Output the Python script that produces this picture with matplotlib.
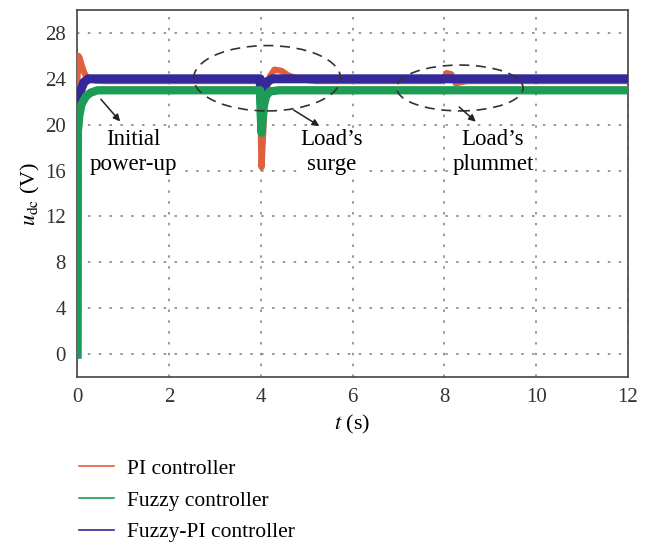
import matplotlib
matplotlib.use('Agg')
import matplotlib.pyplot as plt
from matplotlib.patches import Ellipse

# valeurs (tension du bus continu, V)
t_pi = [0, 0.01, 0.03, 0.06, 0.1, 0.15, 0.2, 0.3, 0.4, 0.6, 3.99, 4.0, 4.02, 4.05, 4.1,
        4.2, 4.3, 4.45, 4.6, 4.8, 5.2, 7.95, 8.05, 8.15, 8.25, 8.35, 8.5, 8.7, 12]
u_pi = [0, 24, 26, 25.8, 25.2, 24.6, 24.2, 24.0, 23.85, 23.8, 23.8, 20, 16.3, 19, 22.5,
        24.2, 24.8, 24.7, 24.3, 24.0, 23.8, 23.8, 24.5, 24.4, 23.6, 23.7, 23.8, 23.8, 23.8]

t_fuzzy = [0, 0.005, 0.02, 0.05, 0.1, 0.2, 0.3, 0.45, 0.7, 3.99, 4.0, 4.02, 4.06, 4.12,
           4.2, 4.4, 12]
u_fuzzy = [0, 17, 19.5, 20.8, 21.8, 22.5, 22.8, 23.0, 23.0, 23.0, 21, 19.3, 21.5, 22.5,
           22.9, 23.0, 23.0]

t_fpi = [0, 0.005, 0.03, 0.08, 0.15, 0.25, 3.99, 4.0, 4.02, 4.06, 4.12, 4.25, 12]
u_fpi = [0, 19, 21.5, 23.0, 23.7, 24.0, 24.0, 22.5, 21.5, 23.0, 23.7, 24.0, 24.0]

yticks = [0, 4, 8, 12, 16, 20, 24, 28]
xticks = [0, 2, 4, 6, 8, 10, 12]

plt.rcParams['font.family'] = ['Liberation Serif', 'DejaVu Serif']
plt.rcParams['mathtext.fontset'] = 'stix'

fig = plt.figure(figsize=(6.51, 5.44), dpi=100)
ax = fig.add_axes([77 / 651, 1 - 377 / 544, 551 / 651, 367 / 544])

ax.plot(t_pi, u_pi, color='#e0603c', lw=4.5, label='PI controller', zorder=3)
ax.plot(t_fpi, u_fpi, color='#34289a', lw=6.5, label='Fuzzy-PI controller', zorder=4)
ax.plot(t_fuzzy, u_fuzzy, color='#1e9c55', lw=6, label='Fuzzy controller', zorder=5)

ax.set_xlim(0, 12)
ax.set_ylim(-2, 30)
ax.set_xticks(xticks)
ax.set_yticks(yticks)
ax.tick_params(length=0, labelsize=15, pad=8, colors='#333333')
ax.grid(True, color='#888888', linestyle=(0, (1.5, 5)), linewidth=1.2)
for s in ax.spines.values():
    s.set_color('#444444')
    s.set_linewidth(1.2)

ax.set_xlabel('$t$ (s)', fontsize=16, labelpad=4)
ax.set_ylabel(r'$u_{\mathrm{dc}}$ (V)', fontsize=16, labelpad=2)

# ellipses en tirets
ax.add_patch(Ellipse((4.14, 24.05), 3.2, 5.7, fill=False, ls=(0, (6, 4)), lw=1.2,
                     color='#333333', zorder=6))
ax.add_patch(Ellipse((8.34, 23.2), 2.75, 4.0, fill=False, ls=(0, (6, 4)), lw=1.2,
                     color='#333333', zorder=6))

box = dict(facecolor='white', edgecolor='none', pad=1)
arrow = dict(arrowstyle='-|>', color='#222222', lw=1.1, mutation_scale=10)
ax.annotate('', xy=(0.98, 20.1), xytext=(0.48, 22.4), arrowprops=arrow, zorder=7)
ax.annotate('', xy=(5.33, 19.75), xytext=(4.67, 21.4), arrowprops=arrow, zorder=7)
ax.annotate('', xy=(8.73, 20.1), xytext=(8.28, 21.7), arrowprops=arrow, zorder=7)
ax.text(1.23, 17.6, 'Initial\npower-up', ha='center', va='center', fontsize=16.5,
        linespacing=1.25, bbox=box, zorder=7)
ax.text(5.55, 17.6, "Load’s\nsurge", ha='center', va='center', fontsize=16.5,
        linespacing=1.25, bbox=box, zorder=7)
ax.text(9.06, 17.6, "Load’s\nplummet", ha='center', va='center', fontsize=16.5,
        linespacing=1.25, bbox=box, zorder=7)

# ordre de la legende : PI, Fuzzy, Fuzzy-PI
handles, labels = ax.get_legend_handles_labels()
order = [0, 2, 1]
leg = fig.legend([handles[i] for i in order], [labels[i] for i in order],
                 loc='upper left', bbox_to_anchor=(70 / 651, 1 - 450 / 544),
                 frameon=False, fontsize=15.5, handlelength=1.65, handletextpad=0.6,
                 labelspacing=0.55, borderaxespad=0)
for line in leg.get_lines():
    line.set_linewidth(1.2)

fig.savefig('out.png', dpi=100)
